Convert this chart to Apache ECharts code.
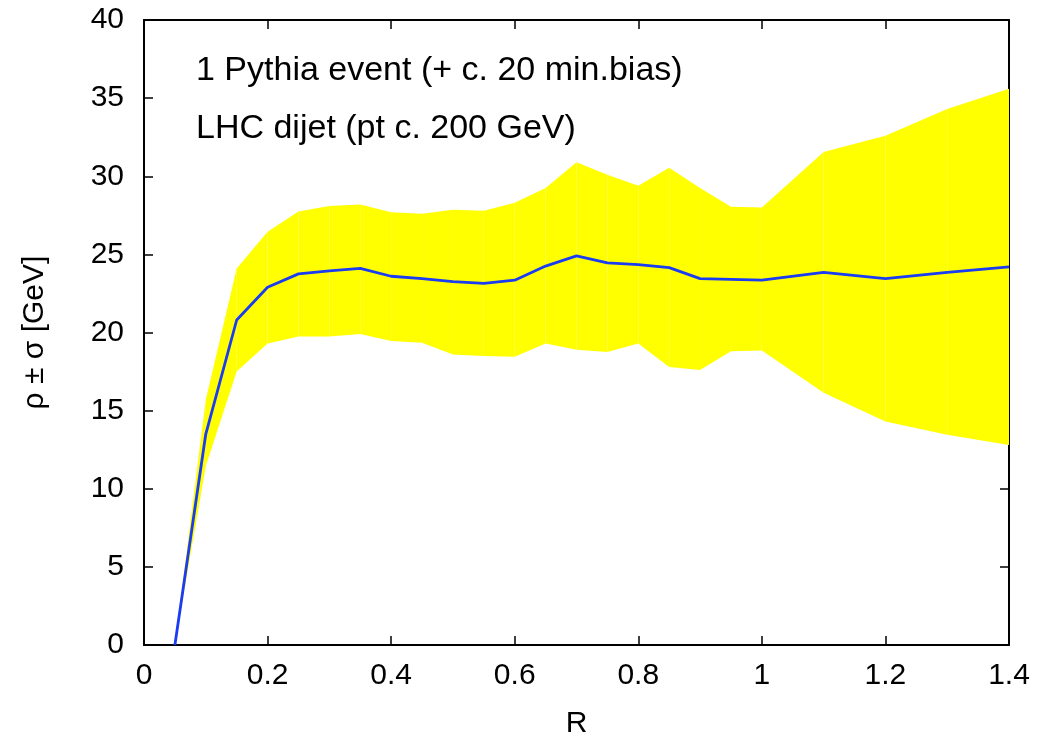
<!DOCTYPE html>
<html>
<head>
<meta charset="utf-8">
<script src="https://cdn.jsdelivr.net/npm/echarts@6/dist/echarts.min.js"></script>
<style>
html,body{margin:0;padding:0;background:#fff;}
#chart{width:1041px;height:745px;}
</style>
</head>
<body>
<div id="chart"></div>
<script>
// ---- data ----
var R =     [0.05, 0.1,  0.15, 0.2,  0.25, 0.3,  0.35, 0.4,  0.45, 0.5,  0.55, 0.6,  0.65, 0.7,  0.75, 0.8,  0.85, 0.9,  0.95, 1.0,  1.1,  1.2,  1.3,  1.4];
var rho =   [0,    13.5, 20.8, 22.9, 23.75,23.95,24.1, 23.6, 23.45,23.25,23.15,23.35,24.25,24.9, 24.45,24.35,24.15,23.45,23.4, 23.35,23.85,23.45,23.85,24.2];
var upper = [0,    15.7, 24.1, 26.45,27.75,28.1, 28.2, 27.7, 27.6, 27.85,27.8, 28.3, 29.25,30.9, 30.1, 29.4, 30.55,29.25,28.05,28.0, 31.55,32.6, 34.3, 35.6];
var lower = [0,    11.45,17.5, 19.3, 19.75,19.75,19.9, 19.45,19.35,18.6, 18.5, 18.45,19.3, 18.9, 18.75,19.3, 17.8, 17.6, 18.8, 18.85,16.15,14.3, 13.45,12.8];
var xTicks = [0, 0.2, 0.4, 0.6, 0.8, 1, 1.2, 1.4];
var yTicks = [0, 5, 10, 15, 20, 25, 30, 35, 40];
var annot1 = '1 Pythia event (+ c. 20 min.bias)';
var annot2 = 'LHC dijet (pt c. 200 GeV)';

var lineData = R.map(function(r, i){ return [r, rho[i]]; });
var bandData = [];
for (var i = 0; i < R.length - 1; i++) {
  bandData.push([R[i], lower[i], upper[i], R[i+1], lower[i+1], upper[i+1]]);
}

var FONT = '"Liberation Sans", Arial, Helvetica, sans-serif';
var FS = 30;
var FS_ANN = 34;
var chart = echarts.init(document.getElementById('chart'), null, {renderer: 'canvas'});
var axisLine = {show: true, onZero: false, lineStyle: {color: '#000', width: 2}};
var tickIn = {show: true, inside: true, length: 9, lineStyle: {color: '#000', width: 1.5}};

chart.setOption({
  animation: false,
  backgroundColor: '#fff',
  grid: {left: 144, right: 32, top: 20, bottom: 100, containLabel: false},
  xAxis: [{
    type: 'value', min: 0, max: 1.4, interval: 0.2, position: 'bottom',
    axisLine: axisLine, axisTick: tickIn, splitLine: {show: false},
    axisLabel: {color: '#000', fontSize: FS, fontFamily: FONT, margin: 16,
      formatter: function(v){ return String(+v.toFixed(1)); }},
    name: 'R', nameLocation: 'middle', nameGap: 64,
    nameTextStyle: {color: '#000', fontSize: FS, fontFamily: FONT}
  }, {
    type: 'value', min: 0, max: 1.4, interval: 0.2, position: 'top',
    axisLine: axisLine, axisTick: tickIn, axisLabel: {show: false}, splitLine: {show: false}
  }],
  yAxis: [{
    type: 'value', min: 0, max: 40, interval: 5, position: 'left',
    axisLine: axisLine, axisTick: tickIn, splitLine: {show: false},
    axisLabel: {color: '#000', fontSize: FS, fontFamily: FONT, margin: 20},
    name: 'ρ ± σ [GeV]', nameLocation: 'middle', nameGap: 94, nameRotate: 90,
    nameTextStyle: {color: '#000', fontSize: FS, fontFamily: FONT}
  }, {
    type: 'value', min: 0, max: 40, interval: 5, position: 'right',
    axisLine: axisLine, axisTick: tickIn, axisLabel: {show: false}, splitLine: {show: false}
  }],
  series: [{
    type: 'custom',
    xAxisIndex: 0, yAxisIndex: 0,
    data: bandData,
    encode: {x: [0, 3], y: [1, 2, 4, 5]},
    clip: true,
    silent: true,
    z: 1,
    renderItem: function(params, api){
      var p1 = api.coord([api.value(0), api.value(1)]);
      var p2 = api.coord([api.value(0), api.value(2)]);
      var p3 = api.coord([api.value(3), api.value(5)]);
      var p4 = api.coord([api.value(3), api.value(4)]);
      return {
        type: 'polygon',
        shape: {points: [p1, p2, p3, p4]},
        style: {fill: '#ffff00'}
      };
    }
  }, {
    type: 'line',
    xAxisIndex: 0, yAxisIndex: 0,
    data: lineData,
    showSymbol: false,
    symbol: 'none',
    z: 3,
    lineStyle: {color: '#1a3cf2', width: 2.8}
  }],
  graphic: [{
    type: 'text', left: 196, top: 54, z: 10,
    style: {text: annot1, fill: '#000', font: FS_ANN + 'px ' + FONT}
  }, {
    type: 'text', left: 196, top: 112, z: 10,
    style: {text: annot2, fill: '#000', font: FS_ANN + 'px ' + FONT}
  }]
});
</script>
</body>
</html>
